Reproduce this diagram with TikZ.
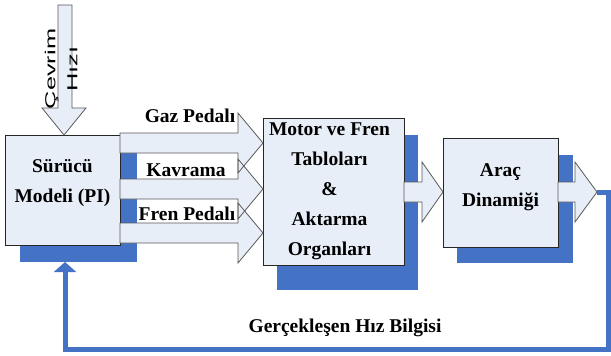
\documentclass[tikz,border=0pt]{standalone}
\usepackage{fontspec}
\usepackage{graphicx}
\setmainfont{Liberation Serif}
\setsansfont{Liberation Sans}
\usetikzlibrary{arrows.meta,positioning}

\definecolor{golge}{RGB}{68,114,196}
\definecolor{kutudolgu}{RGB}{232,238,248}

% yatay blok ok: baslangic x, kafa x, uc x, orta y
\newcommand{\okyol}[4]{(#1,#4-10) -- (#2,#4-10) -- (#2,#4-30) -- (#3,#4) -- (#2,#4+30) -- (#2,#4+10) -- (#1,#4+10) -- cycle}

\begin{document}
\begin{tikzpicture}[x=1pt,y=-1pt,
  blok/.style={draw=black!85,fill=kutudolgu,line width=1pt,inner sep=0pt},
  yazi/.style={font=\bfseries\fontsize{19.5}{30}\selectfont,align=center},
  okdolgu/.style={fill=kutudolgu},
  okcizgi/.style={draw=black!65,line width=0.8pt},
  geri/.style={draw=golge,line width=5pt,-{Triangle[width=22pt,length=10pt]}}]
\useasboundingbox (0,0) rectangle (611,356);

% golgeler
\fill[golge] (20,150) rectangle (137,262);
\fill[golge] (277,135) rectangle (418,290);
\fill[golge] (457,155) rectangle (573,263);

% kutular
\node[blok,minimum width=115pt,minimum height=110pt] (surucu) at (62.5,190) {};
\node[blok,minimum width=141pt,minimum height=147pt] (motor) at (333.5,191.5) {};
\node[blok,minimum width=115pt,minimum height=109pt] (arac) at (500.5,192.5) {};

\node[yazi] at ([yshift=7pt]surucu) {S\"ur\"uc\"u\\Modeli (PI)};
\node[yazi] at ([xshift=-4pt,yshift=0pt]motor) {Motor ve Fren\\Tablolar\i\\\&\\Aktarma\\Organlar\i};
\node[yazi] at ([yshift=5pt]arac) {Ara\c{c}\\Dinami\u{g}i};

% surucu -> motor oklari
\fill[okdolgu] \okyol{120}{238}{263}{143};
\fill[okdolgu] \okyol{120}{238}{263}{189};
\fill[okdolgu] \okyol{120}{238}{263}{233};
\path[okcizgi] \okyol{120}{238}{263}{143};
\path[okcizgi] \okyol{120}{238}{263}{189};
\path[okcizgi] \okyol{120}{238}{263}{233};

\node[yazi] (gaz) at (190,116) {Gaz Pedal\i};
\node[yazi] (kavrama) at (186,170) {Kavrama};
\node[yazi] (fren) at (187,214) {Fren Pedal\i};

% motor -> arac -> cikis
\filldraw[okdolgu,okcizgi] \okyol{404}{422}{443}{192};
\filldraw[okdolgu,okcizgi] \okyol{558}{575}{597}{192};

% cevrim hizi girisi
\filldraw[okdolgu,okcizgi] (58,5) -- (72,5) -- (72,108) -- (86,108) -- (64,135)
  -- (42,108) -- (58,108) -- cycle;
\node[rotate=90,align=center,font=\sffamily\fontsize{14.5}{22}\selectfont] (cevrim) at (61,69)
  {\scalebox{1.75}[1]{\c{C}evrim}\\\scalebox{1.75}[1]{H\i z\i}};

% geri besleme
\coordinate (cikis) at (597,192);
\coordinate (giris) at (65,262);
\draw[geri] (cikis) -- (608,192) -- (608,349) -- (65,349) -- (giris);
\node[yazi] (bilgi) at (345,328) {Ger\c{c}ekle\c{s}en H\i z Bilgisi};
\end{tikzpicture}
\end{document}
